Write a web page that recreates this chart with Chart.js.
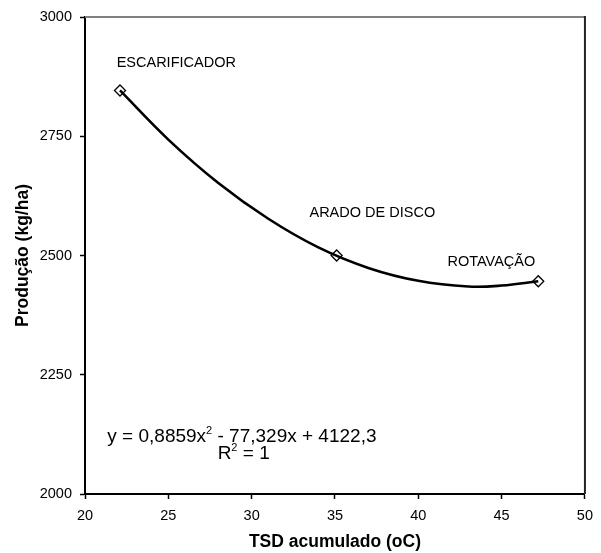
<!DOCTYPE html>
<html><head><meta charset="utf-8">
<script src="https://cdn.jsdelivr.net/npm/chart.js@4.4.1/dist/chart.umd.min.js"></script>
<style>html,body{margin:0;padding:0;background:#fff;}#wrap{width:601px;height:553px;}</style>
</head><body><div id="wrap"><canvas id="c" width="601" height="553"></canvas></div>
<script>
// ---- data ----
const treatments = ['ESCARIFICADOR', 'ARADO DE DISCO', 'ROTAVAÇÃO'];
const tsd = [22.1, 35.1, 47.2];
const producao = [2846, 2500, 2446];
// trendline
const trendX = [22.1, 25, 28, 31, 34, 37, 40, 43, 45, 47.2];
const trendY = [2846, 2743, 2652, 2577, 2517, 2474, 2447, 2435, 2437, 2446];
const xTicks = [20, 25, 30, 35, 40, 45, 50];
const yTicks = [2000, 2250, 2500, 2750, 3000];
const equationParts = ['y = 0,8859x', '2', ' - 77,329x + 4122,3'];
const r2Parts = ['R', '2', ' = 1'];
const xTitle = 'TSD acumulado (oC)';
const yTitle = 'Produção (kg/ha)';

const FAMILY = '"Liberation Sans", Arial, Helvetica, sans-serif';
const FS = 14.5;
const EQ_FS = 19;
const SUP_FS = 11;
const TITLE_FS = 17.5;

// annotation anchors in data units (x start, y centre)
const labelAnchors = [[21.9, 2904], [33.47, 2589], [41.75, 2487]];
const eqAnchor = [21.34, 2120];
const r2Anchor = [27.96, 2085];

function drawSup(ctx, parts, x, y) {
  ctx.font = EQ_FS + 'px ' + FAMILY;
  ctx.fillText(parts[0], x, y);
  let w = ctx.measureText(parts[0]).width;
  ctx.font = SUP_FS + 'px ' + FAMILY;
  ctx.fillText(parts[1], x + w, y - 5.5);
  w += ctx.measureText(parts[1]).width;
  ctx.font = EQ_FS + 'px ' + FAMILY;
  ctx.fillText(parts[2], x + w, y);
}

const overlay = {
  id: 'overlay',
  afterDatasetsDraw(chart) {
    const {ctx, chartArea: a, scales: {x, y}} = chart;
    ctx.save();
    ctx.lineWidth = 2;
    ctx.strokeStyle = '#808080';
    ctx.beginPath(); ctx.moveTo(a.left, a.top); ctx.lineTo(a.right, a.top); ctx.stroke();
    ctx.strokeStyle = '#222';
    ctx.beginPath(); ctx.moveTo(a.right, a.top - 1); ctx.lineTo(a.right, a.bottom); ctx.stroke();
    ctx.fillStyle = '#000';
    ctx.textBaseline = 'middle';
    ctx.textAlign = 'left';
    ctx.font = FS + 'px ' + FAMILY;
    treatments.forEach((t, i) => {
      ctx.fillText(t, x.getPixelForValue(labelAnchors[i][0]), y.getPixelForValue(labelAnchors[i][1]));
    });
    drawSup(ctx, equationParts, x.getPixelForValue(eqAnchor[0]), y.getPixelForValue(eqAnchor[1]));
    drawSup(ctx, r2Parts, x.getPixelForValue(r2Anchor[0]), y.getPixelForValue(r2Anchor[1]));
    ctx.restore();
  }
};

const tickFont = {family: FAMILY, size: FS};
const titleFont = {family: FAMILY, size: TITLE_FS, weight: 'bold'};

new Chart(document.getElementById('c'), {
  type: 'scatter',
  data: {
    datasets: [
      {
        label: 'trend',
        data: trendX.map((v, i) => ({x: v, y: trendY[i]})),
        showLine: true,
        borderColor: '#000',
        borderWidth: 2.6,
        tension: 0.4,
        pointRadius: 0,
        order: 0
      },
      {
        label: 'Produção',
        data: tsd.map((v, i) => ({x: v, y: producao[i]})),
        showLine: false,
        pointStyle: 'rectRot',
        pointRadius: 5.5,
        pointBorderWidth: 1.3,
        pointBorderColor: '#000',
        pointBackgroundColor: '#fff',
        order: 1
      }
    ]
  },
  options: {
    responsive: false,
    animation: false,
    devicePixelRatio: 1,
    layout: {padding: {top: 17, right: 15, left: 0, bottom: 0}},
    plugins: {legend: {display: false}, tooltip: {enabled: false}},
    scales: {
      x: {
        type: 'linear',
        min: 20, max: 50,
        afterBuildTicks: s => { s.ticks = xTicks.map(v => ({value: v})); },
        afterFit: s => { s.height = 59; },
        grid: {drawOnChartArea: false, drawTicks: true, tickLength: 5, color: '#000', tickWidth: 1.5},
        border: {display: true, color: '#000', width: 2},
        ticks: {color: '#000', font: tickFont, padding: 8, maxRotation: 0, callback: v => String(v)},
        title: {display: true, text: xTitle, color: '#000', font: titleFont, padding: {top: 0, bottom: 0.5}}
      },
      y: {
        type: 'linear',
        min: 2000, max: 3000,
        afterBuildTicks: s => { s.ticks = yTicks.map(v => ({value: v})); },
        afterFit: s => { s.width = 85; },
        grid: {drawOnChartArea: false, drawTicks: true, tickLength: 5, color: '#000', tickWidth: 1.5},
        border: {display: true, color: '#000', width: 2},
        ticks: {color: '#000', font: tickFont, padding: 8, callback: v => String(v)},
        title: {display: true, text: yTitle, color: '#000', font: titleFont, padding: {top: 12.5, bottom: 0}}
      }
    }
  },
  plugins: [overlay]
});
</script>
</body></html>
